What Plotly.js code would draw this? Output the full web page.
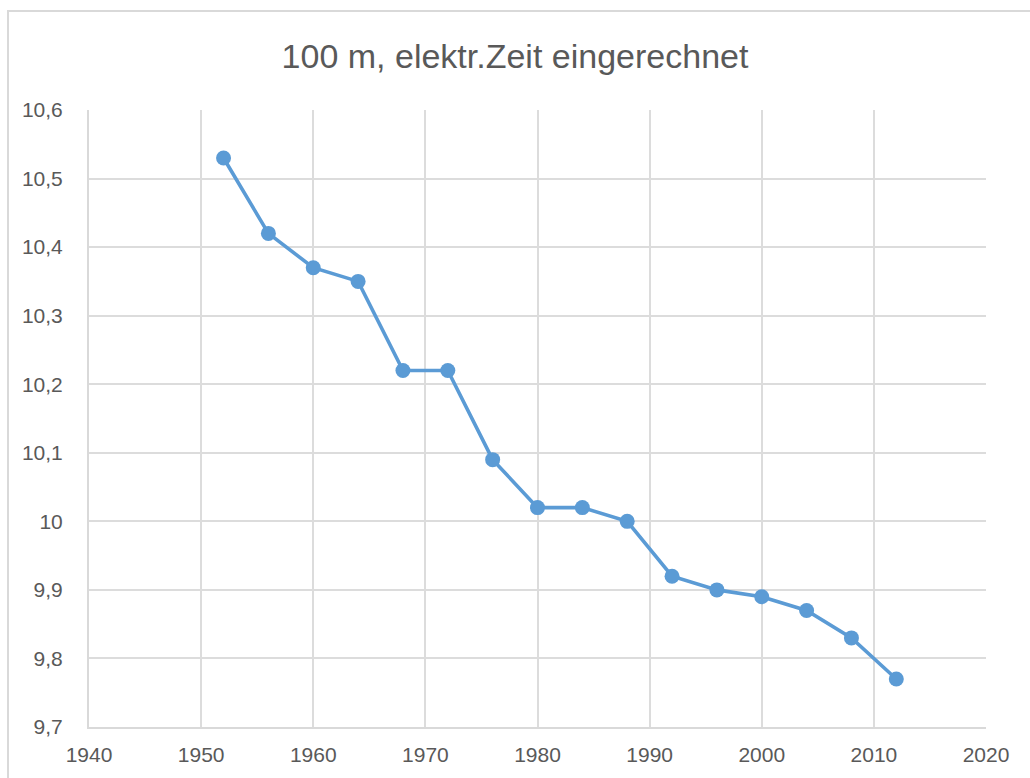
<!DOCTYPE html>
<html>
<head>
<meta charset="utf-8">
<script src="https://cdn.plot.ly/plotly-3.0.1.min.js"></script>
<style>
html,body{margin:0;padding:0;background:#fff;}
#wrap{position:relative;width:1030px;height:778px;overflow:hidden;}
#chart{width:1030px;height:778px;}
#frame{position:absolute;left:7px;top:10px;width:1040px;height:800px;border:2px solid #D9D9D9;box-sizing:border-box;pointer-events:none;}
</style>
</head>
<body>
<div id="wrap"><div id="chart"></div><div id="frame"></div></div>
<script>
const years = [1952, 1956, 1960, 1964, 1968, 1972, 1976, 1980, 1984, 1988, 1992, 1996, 2000, 2004, 2008, 2012];
const times = [10.53, 10.42, 10.37, 10.35, 10.22, 10.22, 10.09, 10.02, 10.02, 10.00, 9.92, 9.90, 9.89, 9.87, 9.83, 9.77];
const chartTitle = "100 m, elektr.Zeit eingerechnet";

const trace = {
  x: years, y: times, type: 'scatter', mode: 'lines+markers',
  line: {color: '#5B9BD5', width: 3.6},
  marker: {color: '#5B9BD5', size: 15},
  hoverinfo: 'x+y'
};
const font = {family: 'Liberation Sans, Arial, sans-serif', color: '#595959', size: 21};
const layout = {
  width: 1030, height: 778,
  margin: {l: 89, r: 44, t: 110, b: 51},
  separators: ',.',
  paper_bgcolor: '#fff', plot_bgcolor: '#fff',
  font: font,
  title: {text: chartTitle, font: {family: 'Liberation Sans, Arial, sans-serif', size: 34, color: '#595959'}, x: 0.5, xanchor: 'center', y: 0.928, yanchor: 'middle'},
  showlegend: false,
  xaxis: {range: [1940, 2020], dtick: 10, tick0: 1940, showgrid: true, gridcolor: '#DCDCDC', gridwidth: 2,
          showline: true, linecolor: '#D9D9D9', linewidth: 2, mirror: false, zeroline: false, ticks: '',
          tickfont: font, ticklabelstandoff: 8},
  yaxis: {range: [9.7, 10.6], dtick: 0.1, tick0: 9.7, showgrid: true, gridcolor: '#DCDCDC', gridwidth: 2,
          showline: true, linecolor: '#D9D9D9', linewidth: 2, zeroline: false, ticks: '',
          tickfont: font, ticklabelstandoff: 20}
};
Plotly.newPlot('chart', [trace], layout, {displayModeBar: false, staticPlot: true});
</script>
</body>
</html>
